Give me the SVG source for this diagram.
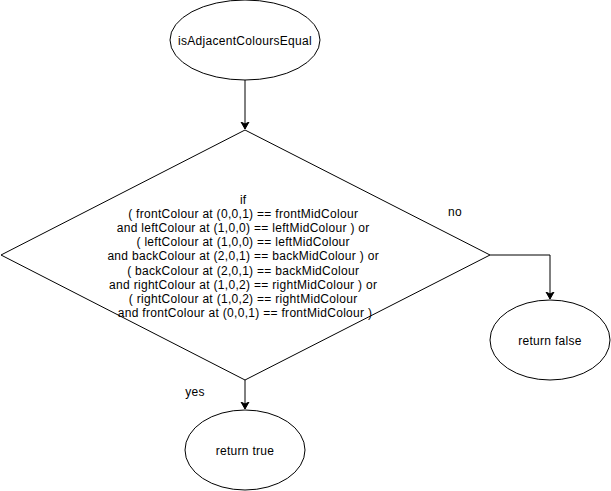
<svg xmlns="http://www.w3.org/2000/svg" width="611" height="491" viewBox="0 0 611 491">
  <style>
    .shape { fill: #ffffff; stroke: #000000; stroke-width: 1; }
    .edge { fill: none; stroke: #000000; stroke-width: 1; }
    text { font-family: "Liberation Sans", Arial, sans-serif; font-size: 12px; letter-spacing: 0.3px; fill: #000000; }
    .c { text-anchor: middle; }
  </style>
  <defs>
    <marker id="arrow" markerWidth="8" markerHeight="10" refX="7" refY="5" orient="auto" markerUnits="userSpaceOnUse">
      <path d="M0,1 L7,5 L0,9 L2,5 Z" fill="#000000" stroke="#000000" stroke-width="1"/>
    </marker>
  </defs>
  <rect width="611" height="491" fill="#ffffff"/>

  <g id="connectors">
    <path class="edge" d="M245,80 L245,129" marker-end="url(#arrow)"/>
    <path class="edge" d="M490,255 L550,255 L550,299" marker-end="url(#arrow)"/>
    <path class="edge" d="M245,380 L245,409" marker-end="url(#arrow)"/>
    <text x="455" y="216" class="c">no</text>
    <text x="195" y="396" class="c">yes</text>
  </g>

  <g id="start">
    <ellipse class="shape" cx="245" cy="40" rx="75" ry="40"/>
    <text x="245" y="45" class="c">isAdjacentColoursEqual</text>
  </g>

  <g id="decision">
    <polygon class="shape" points="245,130 490,255 245,380 1,255"/>
    <text class="c">
      <tspan x="245" y="204">if</tspan>
      <tspan x="245" y="218.1">( frontColour at (0,0,1) == frontMidColour</tspan>
      <tspan x="245" y="232.2">and leftColour at (1,0,0) == leftMidColour ) or</tspan>
      <tspan x="245" y="246.3">( leftColour at (1,0,0) == leftMidColour</tspan>
      <tspan x="245" y="260.4">and backColour at (2,0,1) == backMidColour ) or</tspan>
      <tspan x="245" y="274.5">( backColour at (2,0,1) == backMidColour</tspan>
      <tspan x="245" y="288.6">and rightColour at (1,0,2) == rightMidColour ) or</tspan>
      <tspan x="245" y="302.7">( rightColour at (1,0,2) == rightMidColour</tspan>
      <tspan x="245" y="316.8">and frontColour at (0,0,1) == frontMidColour )</tspan>
    </text>
  </g>

  <g id="return-false">
    <ellipse class="shape" cx="550" cy="340" rx="60" ry="40"/>
    <text x="550" y="345" class="c">return false</text>
  </g>

  <g id="return-true">
    <ellipse class="shape" cx="245" cy="450" rx="60" ry="40"/>
    <text x="245" y="455" class="c">return true</text>
  </g>
</svg>
